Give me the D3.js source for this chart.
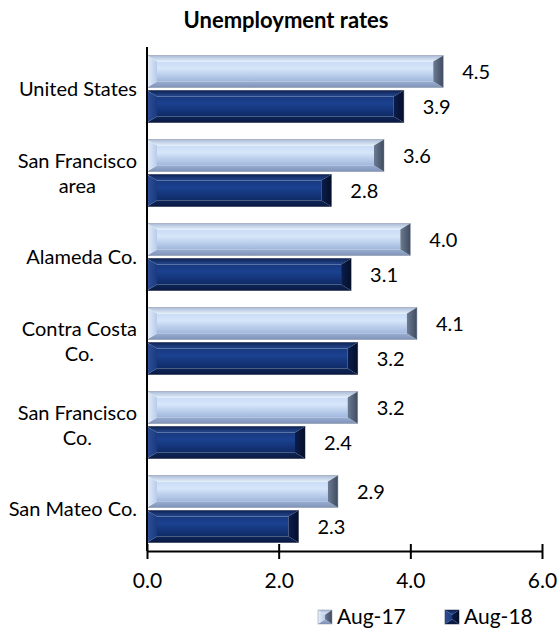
<!DOCTYPE html>
<html>
<head>
<meta charset="utf-8">
<script src="https://cdn.jsdelivr.net/npm/d3@7"></script>
<style>
  html, body { margin: 0; padding: 0; background: #fff; }
  svg { display: block; }
  text { font-family: Lato, "Open Sans", sans-serif; fill: #000; }
</style>
</head>
<body>
<svg id="chart" width="558" height="632"></svg>
<script>
// ---- data ----
const categories = [
  ["United States"],
  ["San Francisco", "area"],
  ["Alameda Co."],
  ["Contra Costa", "Co."],
  ["San Francisco", "Co."],
  ["San Mateo Co."]
];
const seriesNames = ["Aug-17", "Aug-18"];
const aug17 = [4.5, 3.6, 4.0, 4.1, 3.2, 2.9];
const aug18 = [3.9, 2.8, 3.1, 3.2, 2.4, 2.3];
const xTicks = [0, 2, 4, 6];
const title = "Unemployment rates";

const svg = d3.select("#chart");
const W = 558, H = 632;
const margin = {left: 147, right: 16, top: 47, bottom: 81};

const x = d3.scaleLinear().domain([0, 6]).range([margin.left, W - margin.right]);
const y0 = d3.scaleBand().domain(d3.range(categories.length)).range([margin.top, H - margin.bottom]).padding(0);
const y1 = d3.scaleBand().domain([0, 1]).range([0, y0.bandwidth()]).paddingInner(0.086).paddingOuter(0.243);

// ---- gradients ----
const defs = svg.append("defs");
function vGrad(id, stops) {
  const g = defs.append("linearGradient").attr("id", id).attr("x1", 0).attr("y1", 0).attr("x2", 0).attr("y2", 1);
  stops.forEach(([o, c]) => g.append("stop").attr("offset", o).attr("stop-color", c));
}
function hGrad(id, stops) {
  const g = defs.append("linearGradient").attr("id", id).attr("x1", 0).attr("y1", 0).attr("x2", 1).attr("y2", 0);
  stops.forEach(([o, c]) => g.append("stop").attr("offset", o).attr("stop-color", c));
}
const styles = [
  { face: "l-face", top: "l-top", bot: "l-bot", left: "l-left", right: "l-right", edge: "#7d8aa0" },
  { face: "d-face", top: "d-top", bot: "d-bot", left: "d-left", right: "d-right", edge: "#0b1738" }
];
vGrad("l-face", [[0, "#c9dcf6"], [0.35, "#d6e6fa"], [1, "#9fb6dc"]]);
vGrad("l-top", [[0, "#a9bbd6"], [1, "#e4eefb"]]);
vGrad("l-bot", [[0, "#98aed2"], [1, "#7f93b6"]]);
hGrad("l-left", [[0, "#e8f0fb"], [1, "#b7cbe9"]]);
hGrad("l-right", [[0, "#6c7b94"], [1, "#3e4a5e"]]);
vGrad("d-face", [[0, "#17397f"], [0.35, "#1b4190"], [1, "#0f2a66"]]);
vGrad("d-top", [[0, "#0e2256"], [1, "#23498f"]]);
vGrad("d-bot", [[0, "#0e2658"], [1, "#091a42"]]);
hGrad("d-left", [[0, "#2f5198"], [1, "#1a3a80"]]);
hGrad("d-right", [[0, "#0c1d4c"], [1, "#050f2a"]]);

function drawBar(g, xa, xb, yt, h, st) {
  const b = Math.min(10, (xb - xa) / 2), bv = Math.min(6, h / 3);
  const yb = yt + h;
  const P = pts => pts.map(p => p.join(",")).join(" ");
  g.append("rect").attr("x", xa + b).attr("y", yt + bv).attr("width", Math.max(0, xb - xa - 2 * b)).attr("height", h - 2 * bv).attr("fill", `url(#${st.face})`);
  g.append("polygon").attr("points", P([[xa, yt], [xb, yt], [xb - b, yt + bv], [xa + b, yt + bv]])).attr("fill", `url(#${st.top})`);
  g.append("polygon").attr("points", P([[xa, yb], [xb, yb], [xb - b, yb - bv], [xa + b, yb - bv]])).attr("fill", `url(#${st.bot})`);
  g.append("polygon").attr("points", P([[xa, yt], [xa + b, yt + bv], [xa + b, yb - bv], [xa, yb]])).attr("fill", `url(#${st.left})`);
  g.append("polygon").attr("points", P([[xb, yt], [xb - b, yt + bv], [xb - b, yb - bv], [xb, yb]])).attr("fill", `url(#${st.right})`);
  g.append("rect").attr("x", xa).attr("y", yt).attr("width", xb - xa).attr("height", h).attr("fill", "none").attr("stroke", st.edge).attr("stroke-width", 0.8).attr("stroke-opacity", 0.6);
}

// ---- bars ----
const series = [aug17, aug18];
const barsG = svg.append("g");
categories.forEach((c, i) => {
  series.forEach((s, j) => {
    const yt = y0(i) + y1(j);
    const h = y1.bandwidth();
    drawBar(barsG.append("g"), x(0), x(s[i]), yt, h, styles[j]);
    svg.append("text")
      .attr("x", x(s[i]) + 19)
      .attr("y", yt + h / 2)
      .attr("dy", "0.35em")
      .attr("font-size", 20)
      .text(d3.format(".1f")(s[i]));
  });
});

// ---- axes ----
const xAxis = d3.axisBottom(x).tickValues(xTicks).tickFormat(d3.format(".1f")).tickSize(8).tickSizeOuter(0).tickPadding(14);
const xg = svg.append("g").attr("transform", `translate(0,${H - margin.bottom})`).call(xAxis);
xg.select(".domain").attr("stroke", "#000").attr("stroke-width", 2);
xg.selectAll(".tick line").attr("stroke", "#000").attr("stroke-width", 2).attr("y1", -7).attr("y2", 8);
xg.selectAll(".tick text").attr("font-size", 21).attr("font-family", "Lato").attr("fill", "#000");

svg.append("line").attr("x1", x(0)).attr("x2", x(0)).attr("y1", margin.top).attr("y2", H - margin.bottom)
  .attr("stroke", "#000").attr("stroke-width", 2);

// ---- category labels ----
const labelRight = 137, lineH = 25, labelSize = 20;
categories.forEach((lines, i) => {
  const cy = y0(i) + y0.bandwidth() / 2;
  const t = svg.append("text").attr("font-size", labelSize).attr("text-anchor", "middle");
  const widths = lines.map(l => {
    const tt = svg.append("text").attr("font-size", labelSize).text(l);
    const w = tt.node().getComputedTextLength(); tt.remove(); return w;
  });
  const cx = labelRight - d3.max(widths) / 2;
  lines.forEach((l, k) => {
    t.append("tspan").attr("x", cx)
      .attr("y", cy + (k - (lines.length - 1) / 2) * lineH)
      .attr("dy", "0.35em").text(l);
  });
});

// ---- title ----
svg.append("text").attr("x", 286).attr("y", 28).attr("text-anchor", "middle")
  .attr("font-size", 22).attr("font-weight", "bold").text(title);

// ---- legend ----
const legX = [318, 445];
seriesNames.forEach((n, j) => {
  const lg = svg.append("g").attr("transform", `translate(${legX[j]},${610})`);
  drawBar(lg, 0, 14, 0, 14, styles[j]);
  lg.append("text").attr("x", 19).attr("y", 7).attr("dy", "0.35em").attr("font-size", 21).text(n);
});
</script>
</body>
</html>
